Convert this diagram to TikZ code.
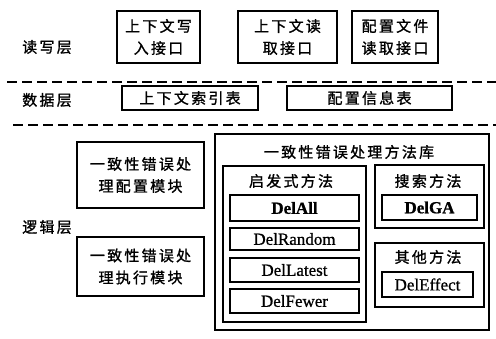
\documentclass[tikz,border=0pt]{standalone}
\usepackage{fontspec}
\newfontfamily\cjk[LetterSpace=15,FakeBold=1.2]{Noto Sans CJK SC}
\newfontfamily\lat[FakeBold=0.8]{Liberation Serif}
\newfontfamily\latb[FakeBold=1]{Liberation Serif Bold}
\begin{document}
\begin{tikzpicture}[x=1pt,y=-1pt,
  box/.style={draw,line width=1.1pt,inner sep=0pt,align=center,
    font=\cjk\fontsize{15}{22}\selectfont},
  mbox/.style={draw,line width=1.1pt,inner sep=0pt,font=\lat\fontsize{17}{20}\selectfont},
  bmbox/.style={mbox,font=\latb\fontsize{17}{20}\selectfont},
  frame/.style={draw,line width=1.2pt,inner sep=0pt},
  lbl/.style={inner sep=0pt,font=\cjk\fontsize{15}{22}\selectfont},
  sep/.style={dashed,dash pattern=on 10pt off 5pt,line width=1.3pt}]
\useasboundingbox (0,0) rectangle (496,339);
% layer labels
\node[lbl] (lrw) at (47,47) {读写层};
\node[lbl] (ldata) at (47,100) {数据层};
\node[lbl] (llogic) at (47,227) {逻辑层};
% separators
\coordinate (s1a) at (7,82); \coordinate (s1b) at (496,82);
\coordinate (s2a) at (13,125); \coordinate (s2b) at (496,125);
\draw[sep] (s1a) -- (s1b);
\draw[sep] (s2a) -- (s2b);
% read/write layer
\node[box,minimum width=83,minimum height=52] (w1) at (158.5,37) {上下文写\\入接口};
\node[box,minimum width=99,minimum height=52] (w2) at (287.5,37) {上下文读\\取接口};
\node[box,minimum width=86,minimum height=52] (w3) at (395,37) {配置文件\\读取接口};
% data layer
\node[box,minimum width=136,minimum height=24] (d1) at (190,98) {上下文索引表};
\node[box,minimum width=165,minimum height=24] (d2) at (369.5,98) {配置信息表};
% logic layer
\node[box,minimum width=127,minimum height=66] (c1) at (140.5,175) {一致性错误处\\理配置模块};
\node[box,minimum width=127,minimum height=59] (c2) at (140.5,266.5) {一致性错误处\\理执行模块};
\node[frame,minimum width=274,minimum height=196] (lib) at (352,232) {};
\node[lbl] (libt) at (349,152) {一致性错误处理方法库};
\node[frame,minimum width=143,minimum height=156] (heur) at (294.5,244) {};
\node[lbl] (heurt) at (291,181) {启发式方法};
\node[bmbox,minimum width=129,minimum height=26] (m1) at (294.5,208) {DelAll};
\node[mbox,minimum width=129,minimum height=22] (m2) at (294.5,239) {DelRandom};
\node[mbox,minimum width=129,minimum height=24] (m3) at (294.5,270) {DelLatest};
\node[mbox,minimum width=129,minimum height=24] (m4) at (294.5,301) {DelFewer};
\node[frame,minimum width=109,minimum height=63] (srch) at (429.5,196.5) {};
\node[lbl] (srcht) at (428,181) {搜索方法};
\node[bmbox,minimum width=95,minimum height=25] (m5) at (429.5,207.5) {DelGA};
\node[frame,minimum width=109,minimum height=64] (oth) at (429.5,275) {};
\node[lbl] (otht) at (428,257) {其他方法};
\node[mbox,minimum width=91,minimum height=25] (m6) at (427.5,284.5) {DelEffect};
\end{tikzpicture}
\end{document}
